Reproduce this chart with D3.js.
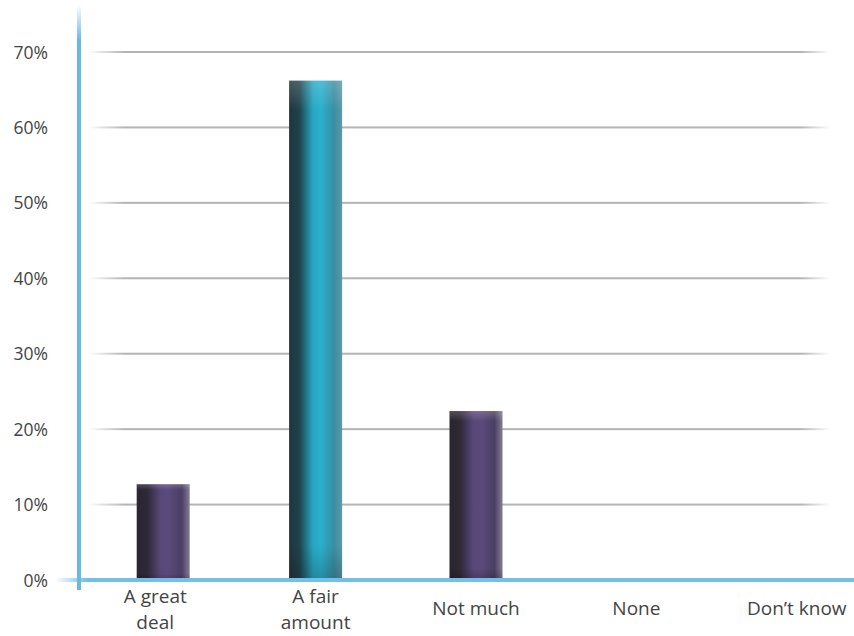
<!DOCTYPE html>
<html>
<head>
<meta charset="utf-8">
<script src="https://cdn.jsdelivr.net/npm/d3@7/dist/d3.min.js"></script>
<style>
  html, body { margin: 0; padding: 0; background: #fff; }
  svg text { font-family: "Open Sans", "Noto Sans", sans-serif; fill: #444; }
</style>
</head>
<body>
<svg id="chart" width="854" height="636"></svg>
<script>
// Survey answers and share of respondents (%)
const categories = ["A great deal", "A fair amount", "Not much", "None", "Don\u2019t know"];
const values = [12.7, 66.2, 22.4, 0, 0];
const yTicks = [0, 10, 20, 30, 40, 50, 60, 70];
const highlight = ["A fair amount"];

const svg = d3.select("#chart");
const defs = svg.append("defs");

const x = d3.scaleBand().domain(categories).range([75, 877]).padding(0);
const y = d3.scaleLinear().domain([0, 70]).range([580, 52]);
const barW = 53;

// Gradients
function hGrad(id, stops) {
  const g = defs.append("linearGradient").attr("id", id)
    .attr("x1", "0").attr("x2", "1").attr("y1", "0").attr("y2", "0");
  stops.forEach(([o, c, a]) => g.append("stop").attr("offset", o).attr("stop-color", c).attr("stop-opacity", a == null ? 1 : a));
}
hGrad("gridFade", [[0, "#b4b4b8", 0], [0.05, "#b4b4b8", 1], [0.96, "#b4b4b8", 1], [1, "#b4b4b8", 0]]);
hGrad("baseFade", [[0, "#72c0e8", 0], [0.04, "#72c0e8", 1], [1, "#72c0e8", 1]]);
hGrad("purpleBar", [[0, "#2a2530"], [0.2, "#2f2838"], [0.45, "#584878"], [0.6, "#5a4a7c"], [0.85, "#4a3f62"], [1, "#857c92"]]);
hGrad("tealBar", [[0, "#22343a"], [0.2, "#1f4450"], [0.45, "#27a6c2"], [0.6, "#2ab0cc"], [0.85, "#3a8ea2"], [1, "#5e98a6"]]);
const vg = defs.append("linearGradient").attr("id", "axisFade")
  .attr("x1", "0").attr("x2", "0").attr("y1", "0").attr("y2", "1");
vg.append("stop").attr("offset", 0).attr("stop-color", "#6ab8e2").attr("stop-opacity", 0);
vg.append("stop").attr("offset", 0.06).attr("stop-color", "#6ab8e2").attr("stop-opacity", 1);
vg.append("stop").attr("offset", 1).attr("stop-color", "#6ab8e2").attr("stop-opacity", 1);
// soft top/bottom shading over bars
const sh = defs.append("linearGradient").attr("id", "barShade")
  .attr("x1", "0").attr("x2", "0").attr("y1", "0").attr("y2", "1");
sh.append("stop").attr("offset", 0).attr("stop-color", "#ffffff").attr("stop-opacity", 0.18);
sh.append("stop").attr("offset", 0.06).attr("stop-color", "#ffffff").attr("stop-opacity", 0);
sh.append("stop").attr("offset", 0.93).attr("stop-color", "#000000").attr("stop-opacity", 0);
sh.append("stop").attr("offset", 1).attr("stop-color", "#000000").attr("stop-opacity", 0.2);

// Gridlines
svg.append("g").selectAll("rect").data(yTicks.filter(d => d > 0)).join("rect")
  .attr("x", 88).attr("width", 742)
  .attr("y", d => y(d) - 1).attr("height", 2)
  .attr("fill", "url(#gridFade)");

// Y axis tick labels
const yAxis = d3.axisLeft(y).tickValues(yTicks).tickFormat(d => d + "%").tickSize(0).tickPadding(0);
const ya = svg.append("g").attr("transform", "translate(48,0)").call(yAxis);
ya.select(".domain").remove();
ya.selectAll("text").style("font-size", "17.5px").attr("dy", "0.35em");

// Bars
const bars = svg.append("g").selectAll("g").data(categories.map((c, i) => ({ c, v: values[i] })).filter(d => d.v > 0)).join("g");
const barX = d => x(d.c) + x.bandwidth() / 2 - barW / 2 + (d.c === categories[0] ? 8 : 0);
bars.append("rect")
  .attr("x", barX)
  .attr("width", barW)
  .attr("y", d => y(d.v)).attr("height", d => y(0) - y(d.v))
  .attr("fill", d => highlight.includes(d.c) ? "url(#tealBar)" : "url(#purpleBar)");
bars.append("rect")
  .attr("x", barX)
  .attr("width", barW)
  .attr("y", d => y(d.v)).attr("height", d => y(0) - y(d.v))
  .attr("fill", "url(#barShade)");

// Baseline (x axis)
svg.append("rect").attr("x", 55).attr("width", 799).attr("y", y(0) - 2).attr("height", 4)
  .attr("fill", "url(#baseFade)");
// Y axis line
svg.append("rect").attr("x", 77).attr("width", 4).attr("y", 5).attr("height", 585)
  .attr("fill", "url(#axisFade)");

// Category labels
const xl = svg.append("g").selectAll("text").data(categories).join("text")
  .attr("text-anchor", "middle")
  .style("font-size", "19px")
  .attr("transform", d => `translate(${x(d) + x.bandwidth() / 2},0)`);
xl.each(function (d) {
  const t = d3.select(this);
  const split = { "A great deal": ["A great", "deal"], "A fair amount": ["A fair", "amount"] }[d];
  if (split) {
    t.append("tspan").attr("x", 0).attr("y", 603).text(split[0]);
    t.append("tspan").attr("x", 0).attr("y", 629).text(split[1]);
  } else {
    t.append("tspan").attr("x", 0).attr("y", 615).text(d);
  }
});
</script>
</body>
</html>
